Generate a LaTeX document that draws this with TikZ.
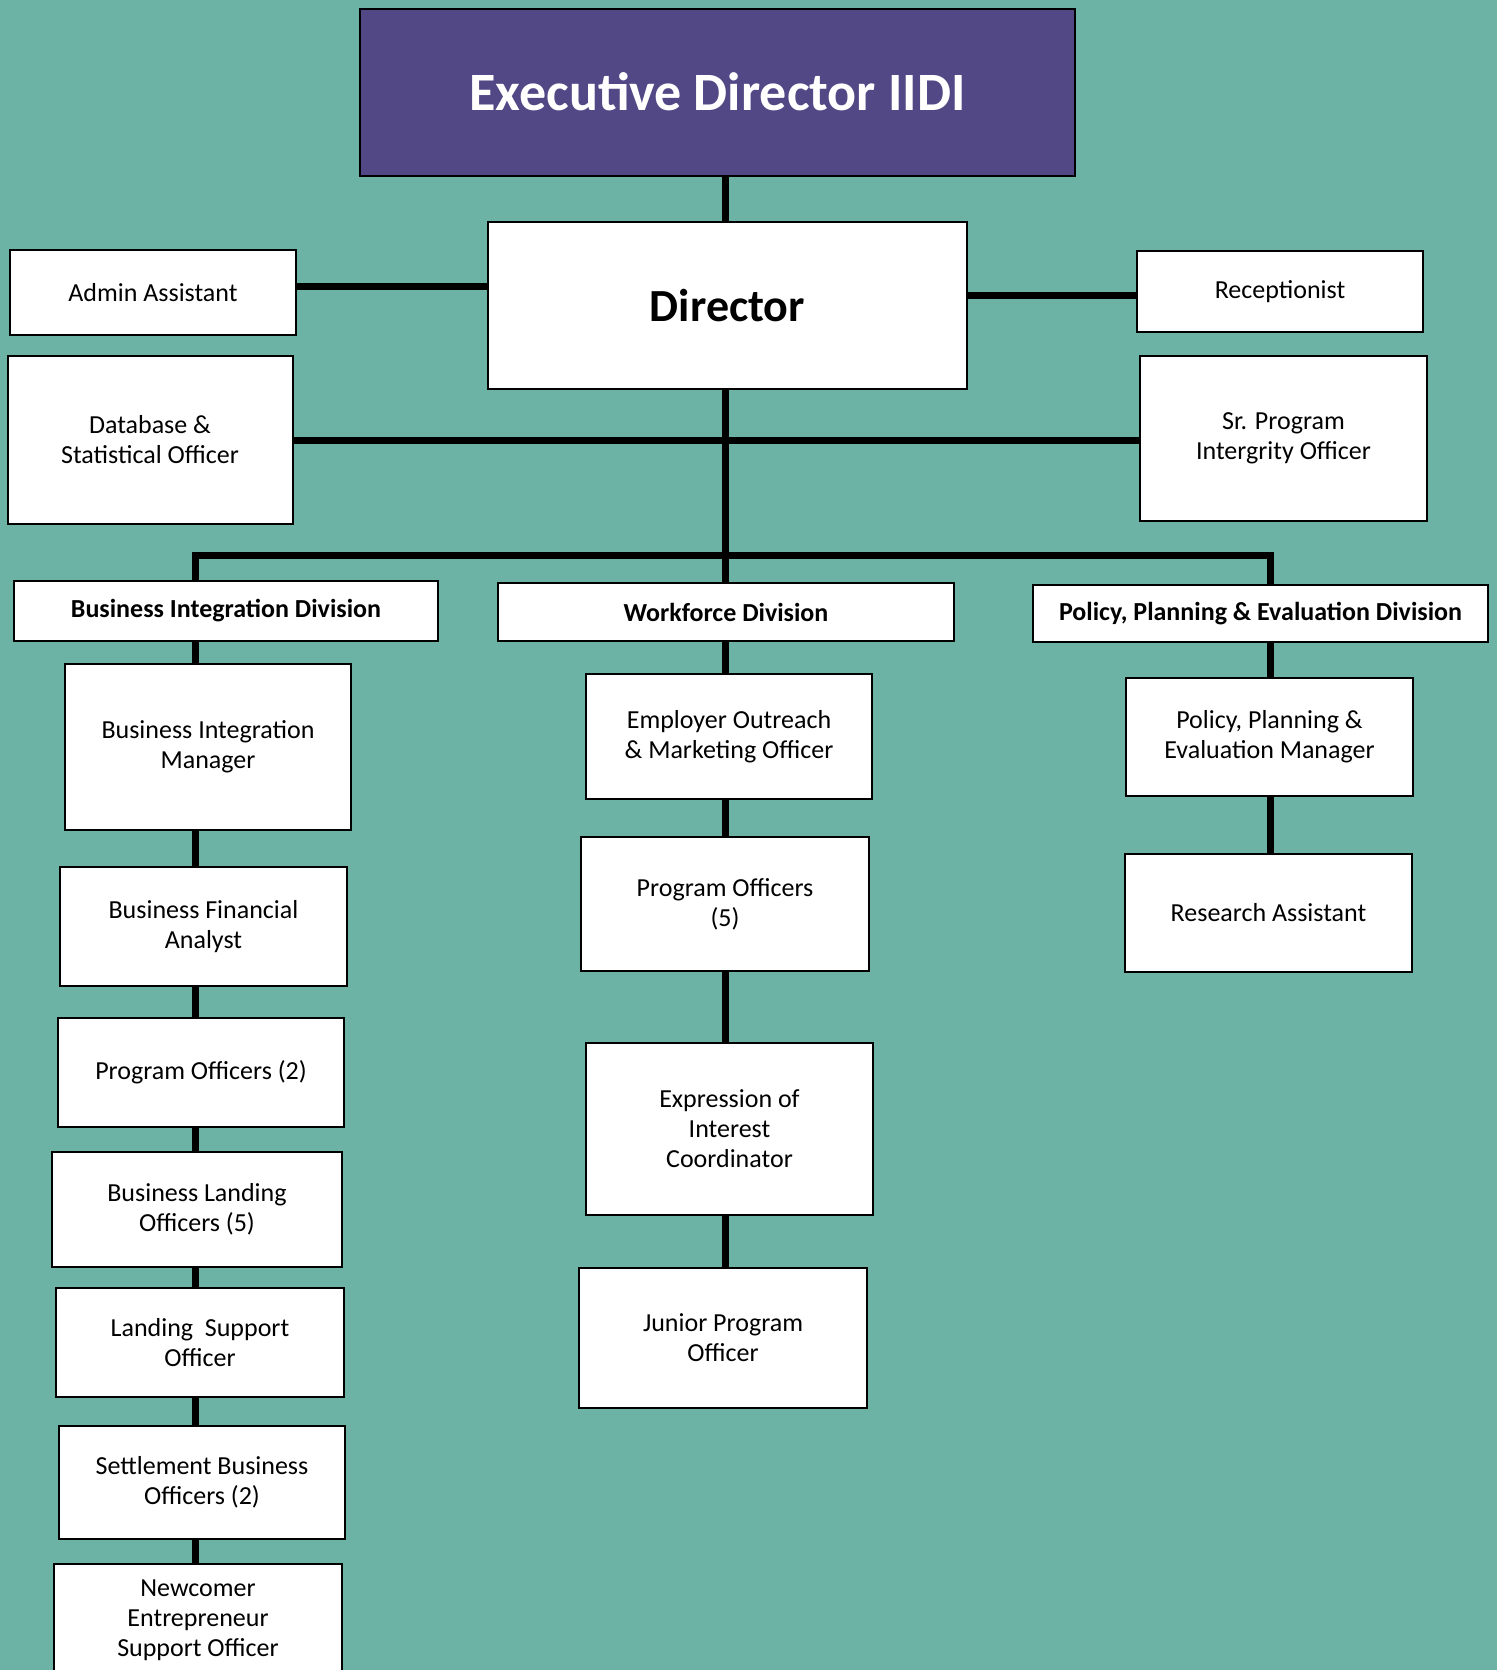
\documentclass[tikz,border=0pt]{standalone}
\usepackage{fontspec}
\setmainfont{Carlito}
\usetikzlibrary{positioning}
\definecolor{orgTeal}{HTML}{6CB3A5}
\definecolor{orgPurple}{HTML}{524886}

\begin{document}
\begin{tikzpicture}[x=0.5pt,y=-0.5pt,
  post/.style={draw=black,line width=1pt,fill=white,inner sep=2pt,align=center,font=\fontsize{13}{15}\selectfont},
  divbox/.style={post,font=\bfseries\fontsize{13}{15}\selectfont},
  link/.style={line width=3.5pt,black,line join=miter}]
\fill[orgTeal] (0,0) rectangle (1497,1670);
\useasboundingbox (0,0) rectangle (1497,1670);
% top of the chart
\node[post,fill=orgPurple,text=white,font=\bfseries\fontsize{27}{32}\selectfont,minimum width=357.5pt,minimum height=83.5pt] (exec) at (717.5,92) {Executive Director IIDI};
\node[post,font=\bfseries\fontsize{23}{28}\selectfont,minimum width=239.5pt,minimum height=83.5pt] (director) at (727.5,305.5) {Director};
\node[post,minimum width=143pt,minimum height=42.5pt] (admin) at (153,292.5) {Admin Assistant};
\node[post,minimum width=142.5pt,minimum height=84pt] (dbase) at (150,440) {Database \&\\Statistical Officer};
\node[post,minimum width=143pt,minimum height=40.5pt] (recep) at (1280,291.5) {Receptionist};
\node[post,minimum width=143.5pt,minimum height=82.5pt] (srprog) at (1283.5,438.5) {Sr. Program\\Intergrity Officer};
% divisions
\node[divbox,minimum width=212pt,minimum height=30pt] (bidiv) at (226,611) {Business Integration Division};
\node[divbox,minimum width=228pt,minimum height=29pt] (wfdiv) at (726,612) {Workforce Division};
\node[divbox,minimum width=227.5pt,minimum height=28.5pt] (ppdiv) at (1260.5,613.5) {Policy, Planning \& Evaluation Division};
% business integration
\node[post,minimum width=143pt,minimum height=83pt] (bim) at (208,747) {Business Integration\\Manager};
\node[post,minimum width=143.5pt,minimum height=59.5pt] (bfa) at (203.5,926.5) {Business Financial\\Analyst};
\node[post,minimum width=143pt,minimum height=54.5pt] (bpo) at (201,1072.5) {Program Officers (2)};
\node[post,minimum width=145pt,minimum height=57.5pt] (blo) at (197,1209.5) {Business Landing\\Officers (5)};
\node[post,minimum width=144pt,minimum height=54.5pt] (lso) at (200,1342.5) {Landing\ \ Support\\Officer};
\node[post,minimum width=143pt,minimum height=56.5pt] (sbo) at (202,1482.5) {Settlement Business\\Officers (2)};
\node[post,minimum width=144pt,minimum height=56pt] (neso) at (198,1620) {Newcomer\\Entrepreneur\\Support Officer};
% workforce
\node[post,minimum width=143pt,minimum height=62.5pt] (eomo) at (729,736.5) {Employer Outreach\\\& Marketing Officer};
\node[post,minimum width=144pt,minimum height=67pt] (wpo) at (725,904) {Program Officers\\(5)};
\node[post,minimum width=143.5pt,minimum height=86pt] (eoi) at (729.5,1129) {Expression of\\Interest\\Coordinator};
\node[post,minimum width=144pt,minimum height=70pt] (jpo) at (723,1338) {Junior Program\\Officer};
% policy, planning & evaluation
\node[post,minimum width=143.5pt,minimum height=59pt] (ppem) at (1269.5,737) {Policy, Planning \&\\Evaluation Manager};
\node[post,minimum width=143.5pt,minimum height=59pt] (ra) at (1268.5,913) {Research Assistant};

% connectors
\coordinate (trunk) at (725,555);
\coordinate (busL) at (195,555);
\coordinate (busR) at (1270,555);
\draw[link] (exec.south -| trunk) -- (director.north -| trunk);
\draw[link] (director.south -| trunk) -- (trunk) -- (wfdiv.north -| trunk);
\draw[link] ([yshift=3pt]admin.east) -- ([yshift=3pt]admin.east -| director.west);
\draw[link] ([yshift=-2pt]recep.west -| director.east) -- ([yshift=-2pt]recep.west);
\draw[link] (dbase.east) -- (dbase.east -| srprog.west);
\draw[link] (bidiv.north -| busL) -- (busL) -- (busR) -- (ppdiv.north -| busR);
\foreach \a/\b in {bidiv/bim,bim/bfa,bfa/bpo,bpo/blo,blo/lso,lso/sbo,sbo/neso}
  \draw[link] (\a.south -| busL) -- (\b.north -| busL);
\foreach \a/\b in {wfdiv/eomo,eomo/wpo,wpo/eoi,eoi/jpo}
  \draw[link] (\a.south -| trunk) -- (\b.north -| trunk);
\foreach \a/\b in {ppdiv/ppem,ppem/ra}
  \draw[link] (\a.south -| busR) -- (\b.north -| busR);
\end{tikzpicture}
\end{document}
